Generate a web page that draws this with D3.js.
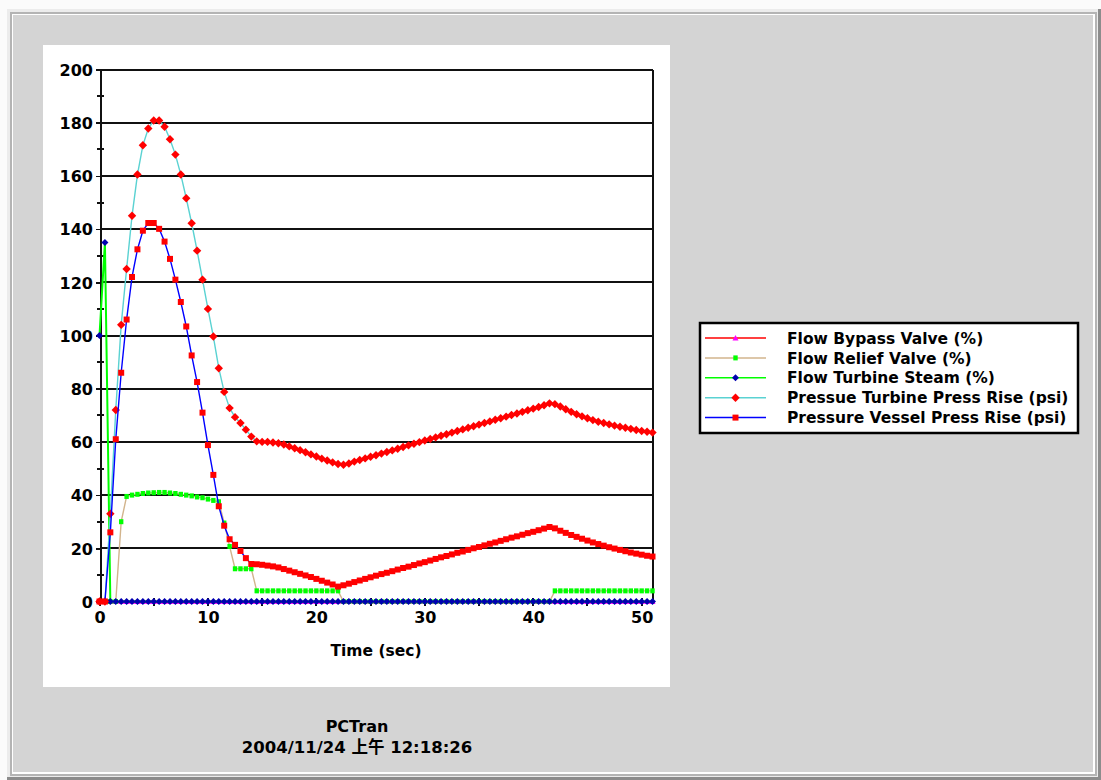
<!DOCTYPE html>
<html>
<head>
<meta charset="utf-8">
<script src="https://cdn.jsdelivr.net/npm/d3@7"></script>
<style>
  html, body { margin: 0; padding: 0; background: #fbfbfb; }
  svg { display: block; }
  text { font-family: "DejaVu Sans", "Noto Sans CJK TC", sans-serif; font-weight: bold; fill: #000; }
</style>
</head>
<body>
<script>
// ---------------- data ----------------
const timeSec = [
  0,0.5,1,1.5,2,2.5,3,3.5,4,4.5,
  5,5.5,6,6.5,7,7.5,8,8.5,9,9.5,
  10,10.5,11,11.5,12,12.5,13,13.5,14,14.5,
  15,15.5,16,16.5,17,17.5,18,18.5,19,19.5,
  20,20.5,21,21.5,22,22.5,23,23.5,24,24.5,
  25,25.5,26,26.5,27,27.5,28,28.5,29,29.5,
  30,30.5,31,31.5,32,32.5,33,33.5,34,34.5,
  35,35.5,36,36.5,37,37.5,38,38.5,39,39.5,
  40,40.5,41,41.5,42,42.5,43,43.5,44,44.5,
  45,45.5,46,46.5,47,47.5,48,48.5,49,49.5,
  50,50.5,51
];

const flowBypassValve = [
  0,0,0,0,0,0,0,0,0,0, 0,0,0,0,0,0,0,0,0,0,
  0,0,0,0,0,0,0,0,0,0, 0,0,0,0,0,0,0,0,0,0,
  0,0,0,0,0,0,0,0,0,0, 0,0,0,0,0,0,0,0,0,0,
  0,0,0,0,0,0,0,0,0,0, 0,0,0,0,0,0,0,0,0,0,
  0,0,0,0,0,0,0,0,0,0, 0,0,0,0,0,0,0,0,0,0,
  0,0,0
];

const flowReliefValve = [
  0,0,0,0,30,39.5,40,40.3,40.6,40.8,
  40.9,41,41,40.8,40.6,40.3,40,39.7,39.3,39,
  38.5,38,37.5,29.5,20.7,12.3,12.3,12.3,12.3,4,
  4,4,4,4,4,4,4,4,4,4,
  4,4,4,4,4,0,0,0,0,0,
  0,0,0,0,0,0,0,0,0,0,
  0,0,0,0,0,0,0,0,0,0,
  0,0,0,0,0,0,0,0,0,0,
  0,0,0,0,4,4,4,4,4,4,
  4,4,4,4,4,4,4,4,4,4,
  4,4,4
];

const flowTurbineSteam = [
  100,135,0,0,0,0,0,0,0,0, 0,0,0,0,0,0,0,0,0,0,
  0,0,0,0,0,0,0,0,0,0, 0,0,0,0,0,0,0,0,0,0,
  0,0,0,0,0,0,0,0,0,0, 0,0,0,0,0,0,0,0,0,0,
  0,0,0,0,0,0,0,0,0,0, 0,0,0,0,0,0,0,0,0,0,
  0,0,0,0,0,0,0,0,0,0, 0,0,0,0,0,0,0,0,0,0,
  0,0,0
];

const pressTurbineRise = [
  0,0,33,72,104,125,145,160.5,171.5,177.8,
  180.8,180.8,178.5,173.8,168,160.5,151.6,142.2,131.9,121,
  110,99.6,87.7,78.8,72.7,69.3,67.1,64.6,62,60.2,
  60,60,59.8,59.5,59,58.3,57.6,56.9,56.1,55.3,
  54.5,53.7,53,52.3,51.7,51.4,51.9,52.6,53.2,53.8,
  54.4,55,55.6,56.2,56.8,57.4,58.1,58.7,59.3,59.9,
  60.5,61.1,61.7,62.3,62.9,63.5,64.1,64.7,65.3,65.9,
  66.5,67.1,67.7,68.3,68.9,69.5,70.1,70.7,71.3,71.9,
  72.5,73.1,73.8,74.5,74.2,73.3,72.3,71.3,70.4,69.6,
  68.9,68.2,67.6,67.1,66.6,66.1,65.7,65.3,64.9,64.5,
  64.1,63.8,63.5
];

const pressVesselRise = [
  0,0,26,61,86,106,122,132.4,139.4,142.3,
  142.3,140.1,135.3,128.8,121,112.6,103.4,92.5,82.5,71,
  58.8,47.6,35.8,28.5,23.4,21.3,19,16.3,14.1,14,
  13.8,13.5,13.2,12.8,12.2,11.6,11,10.4,9.8,9.2,
  8.5,7.8,7.1,6.4,5.6,6.1,6.7,7.3,7.9,8.5,
  9.1,9.7,10.3,10.8,11.4,12,12.6,13.1,13.7,14.3,
  14.8,15.4,16,16.6,17.1,17.7,18.3,18.8,19.4,20,
  20.5,21.1,21.7,22.2,22.8,23.4,24,24.5,25.1,25.7,
  26.2,26.8,27.4,28,27.5,26.6,25.8,25,24.3,23.6,
  22.9,22.2,21.6,21,20.4,19.9,19.4,18.9,18.4,18,
  17.6,17.2,16.9
];

const seriesNames = [
  "Flow Bypass Valve (%)",
  "Flow Relief Valve (%)",
  "Flow Turbine Steam (%)",
  "Pressue Turbine Press Rise (psi)",
  "Pressure Vessel Press Rise (psi)"
];
const seriesValues = [flowBypassValve, flowReliefValve, flowTurbineSteam, pressTurbineRise, pressVesselRise];

const yTickValues = [0,20,40,60,80,100,120,140,160,180,200];
const yMinorTicks = [10,30,50,70,90,110,130,150,170,190];
const xTickLabels = [0,10,20,30,40,50];
const xTickMarks = [0,5,10,15,20,25,30,35,40,45,50];
const xAxisTitle = "Time (sec)";
const footerTitle = "PCTran";
const footerDate = "2004/11/24 上午 12:18:26";

// ---------------- styles ----------------
const lineColors   = ["#ff0000", "#d2b48c", "#00ff00", "#5ad2d2", "#0000ff"];
const markerColors = ["#ff00ff", "#00ff00", "#0000b0", "#ff0000", "#ff0000"];
const markerShapes = ["triangle", "rect", "diamondSmall", "diamond", "square"];

const W = 1101, H = 780;
const svg = d3.select("body").append("svg").attr("width", W).attr("height", H);

// window frame
svg.append("rect").attr("x", 7).attr("y", 9).attr("width", W - 7).attr("height", H - 9).attr("fill", "#8c8c8c");
svg.append("rect").attr("x", 7).attr("y", 9).attr("width", W - 10).attr("height", H - 12).attr("fill", "#ececec");
svg.append("rect").attr("x", 10).attr("y", 12).attr("width", W - 14).attr("height", H - 16).attr("fill", "#b4b4b4");
svg.append("rect").attr("x", 12).attr("y", 14).attr("width", W - 18).attr("height", H - 20).attr("fill", "#ffffff");
svg.append("rect").attr("x", 13).attr("y", 15).attr("width", W - 21).attr("height", H - 23).attr("fill", "#d4d4d4");

// white chart panel
svg.append("rect").attr("x", 43).attr("y", 45).attr("width", 627).attr("height", 642).attr("fill", "#ffffff");

const x = d3.scaleLinear().domain([0, 51]).range([99.5, 652.5]);
const y = d3.scaleLinear().domain([0, 200]).range([601.5, 69.5]);

const g = svg.append("g");

// gridlines
g.selectAll("line.grid").data(yTickValues).join("line")
  .attr("class", "grid")
  .attr("x1", x(0)).attr("x2", x(51))
  .attr("y1", d => Math.round(y(d))).attr("y2", d => Math.round(y(d)))
  .attr("stroke", "#111").attr("stroke-width", 2).attr("shape-rendering", "crispEdges");

// right frame
g.append("line").attr("x1", Math.round(x(51))).attr("x2", Math.round(x(51)))
  .attr("y1", Math.round(y(200))).attr("y2", Math.round(y(0)))
  .attr("stroke", "#111").attr("stroke-width", 2).attr("shape-rendering", "crispEdges");

// left axis
const yAxis = d3.axisLeft(y).tickValues(yTickValues).tickSize(4).tickPadding(4).tickFormat(d3.format("d"));
const yAxisG = svg.append("g").attr("transform", `translate(${Math.round(x(0))},0)`).call(yAxis);
yAxisG.select(".domain").attr("stroke", "#111").attr("stroke-width", 2).attr("shape-rendering", "crispEdges");
yAxisG.selectAll(".tick line").attr("stroke", "#111").attr("stroke-width", 1.5).attr("shape-rendering", "crispEdges");
yAxisG.selectAll(".tick text").style("font-size", "16px").style("font-family", "'DejaVu Sans', sans-serif")
  .style("font-weight", "bold").attr("fill", "#000").attr("x", -7).attr("dy", "0.36em");

g.selectAll("line.minor").data(yMinorTicks).join("line")
  .attr("class", "minor")
  .attr("x1", x(0) - 3).attr("x2", x(0) + 4)
  .attr("y1", d => Math.round(y(d))).attr("y2", d => Math.round(y(d)))
  .attr("stroke", "#111").attr("stroke-width", 1.5).attr("shape-rendering", "crispEdges");

// bottom axis
const xAxis = d3.axisBottom(x).tickValues(xTickLabels).tickSize(0).tickPadding(10).tickFormat(d3.format("d"));
const xAxisG = svg.append("g").attr("transform", `translate(0,${Math.round(y(0))})`).call(xAxis);
xAxisG.select(".domain").remove();
xAxisG.selectAll(".tick text").style("font-size", "16px").style("font-family", "'DejaVu Sans', sans-serif")
  .style("font-weight", "bold").attr("fill", "#000");

g.selectAll("line.xtick").data(xTickMarks).join("line")
  .attr("class", "xtick")
  .attr("x1", d => Math.round(x(d))).attr("x2", d => Math.round(x(d)))
  .attr("y1", y(0) - 4).attr("y2", y(0) + 4)
  .attr("stroke", "#111").attr("stroke-width", 1.5).attr("shape-rendering", "crispEdges");

svg.append("text").attr("x", (x(0) + x(51)) / 2).attr("y", 656)
  .attr("text-anchor", "middle").style("font-size", "15.5px").text(xAxisTitle);

// markers
function markerPath(shape) {
  switch (shape) {
    case "triangle": return "M0,-3L3,2.5L-3,2.5Z";
    case "rect": return "M-2.2,-2.5L2.2,-2.5L2.2,2.5L-2.2,2.5Z";
    case "diamondSmall": return "M0,-3.5L3.5,0L0,3.5L-3.5,0Z";
    case "diamond": return "M0,-4.2L4.2,0L0,4.2L-4.2,0Z";
    case "square": return "M-3,-3L3,-3L3,3L-3,3Z";
  }
}

const line = d3.line().x(d => x(d[0])).y(d => y(d[1]));

seriesValues.forEach((vals, si) => {
  const pts = timeSec.map((t, i) => [t, vals[i]]);
  const sg = svg.append("g");
  sg.append("path").datum(pts).attr("d", line)
    .attr("fill", "none").attr("stroke", lineColors[si]).attr("stroke-width", si === 2 ? 2 : 1.4);
  sg.selectAll("path.mk").data(pts).join("path")
    .attr("class", "mk")
    .attr("transform", d => `translate(${x(d[0])},${y(d[1])})`)
    .attr("d", markerPath(markerShapes[si]))
    .attr("fill", markerColors[si]);
});

// legend
const lg = svg.append("g");
lg.append("rect").attr("x", 700).attr("y", 323).attr("width", 378).attr("height", 110)
  .attr("fill", "#fff").attr("stroke", "#000").attr("stroke-width", 2.5);
seriesNames.forEach((name, i) => {
  const cy = 338 + i * 19.9;
  lg.append("line").attr("x1", 705).attr("x2", 766).attr("y1", cy).attr("y2", cy)
    .attr("stroke", lineColors[i]).attr("stroke-width", 1.5);
  lg.append("path").attr("transform", `translate(735.5,${cy})`).attr("d", markerPath(markerShapes[i]))
    .attr("fill", markerColors[i]);
  lg.append("text").attr("x", 787).attr("y", cy + 5.6).style("font-size", "15.5px").text(name);
});

// footer
svg.append("text").attr("x", 357).attr("y", 732).attr("text-anchor", "middle").style("font-size", "16px").text(footerTitle);
svg.append("text").attr("x", 357).attr("y", 753).attr("text-anchor", "middle").style("font-size", "16.5px").text(footerDate);
</script>
</body>
</html>
